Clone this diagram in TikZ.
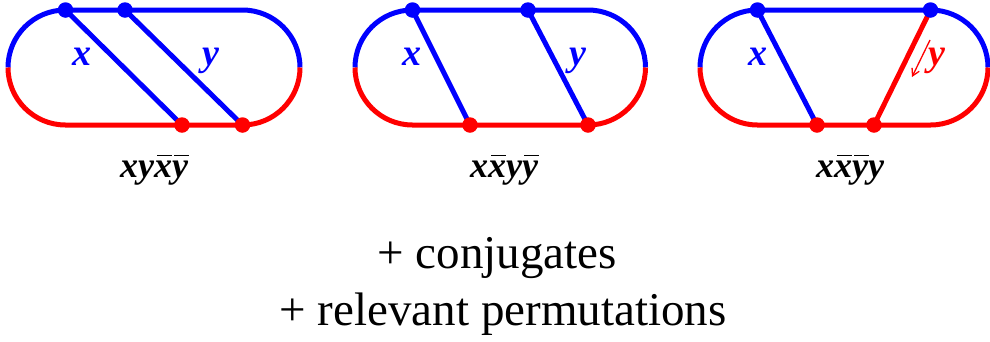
\documentclass[tikz,border=0pt]{standalone}
\usepackage{fontspec}
\setmainfont{Liberation Serif}
\usetikzlibrary{arrows.meta}
\definecolor{cblue}{RGB}{0,0,255}
\definecolor{cred}{RGB}{255,0,0}
\newcommand\ovb[1]{\setbox0\hbox{#1}\rlap{\hbox to \wd0{\hss\hskip0.08em\rule[0.57em]{0.4em}{0.055em}\hss}}\box0}
\newcommand\stadium[3]{% #1 left centre x, #2 right centre x, #3 name prefix
  \draw[edge,cblue] (#1-57.5,-67.5) arc[start angle=180,end angle=90,radius=57.5] -- (#2,-10) arc[start angle=90,end angle=0,radius=57.5];
  \draw[edge,cred] (#1-57.5,-67.5) arc[start angle=180,end angle=270,radius=57.5] -- (#2,-125) arc[start angle=270,end angle=360,radius=57.5];
}
\tikzset{
  edge/.style={line width=5pt,line cap=butt},
  dot/.style={circle,fill,inner sep=0pt,minimum size=15.5pt},
  lab/.style={font=\fontsize{38}{40}\selectfont\bfseries\itshape,inner sep=0pt,anchor=base},
  word/.style={font=\fontsize{36}{40}\selectfont\bfseries\itshape,inner sep=0pt,anchor=base},
  big/.style={font=\fontsize{47}{50}\selectfont,inner sep=0pt,anchor=base}
}
\begin{document}
\begin{tikzpicture}[x=1pt,y=1pt]
\useasboundingbox (0,0) rectangle (990,-341);
% figure 1
\stadium{65.5}{242.5}{a}
\coordinate (a1) at (65.5,-10);
\coordinate (a2) at (125,-10);
\coordinate (a3) at (182,-125);
\coordinate (a4) at (242.5,-125);
\draw[edge,cblue] (a1) -- (a3);
\draw[edge,cblue] (a2) -- (a4);
\node[dot,cblue] (da1) at (a1) {};
\node[dot,cblue] (da2) at (a2) {};
\node[dot,cred] (da3) at (a3) {};
\node[dot,cred] (da4) at (a4) {};
\node[lab,cblue] (ax) at (82,-65) {x};
\node[lab,cblue] (ay) at (211,-65) {y};
\node[word] (aw) at (154,-177) {xy\ovb{x}\ovb{y}};
% figure 2
\stadium{412.5}{588}{b}
\coordinate (b1) at (412.5,-10);
\coordinate (b2) at (528,-10);
\coordinate (b3) at (470,-125);
\coordinate (b4) at (588,-125);
\draw[edge,cblue] (b1) -- (b3);
\draw[edge,cblue] (b2) -- (b4);
\node[dot,cblue] (db1) at (b1) {};
\node[dot,cblue] (db2) at (b2) {};
\node[dot,cred] (db3) at (b3) {};
\node[dot,cred] (db4) at (b4) {};
\node[lab,cblue] (bx) at (412,-65) {x};
\node[lab,cblue] (by) at (578,-65) {y};
\node[word] (bw) at (504,-177) {x\ovb{x}y\ovb{y}};
% figure 3
\stadium{757.5}{930.5}{c}
\coordinate (c1) at (757.5,-10);
\coordinate (c2) at (930.5,-10);
\coordinate (c3) at (817,-125);
\coordinate (c4) at (874,-125);
\draw[edge,cblue] (c1) -- (c3);
\draw[edge,cred] (c2) -- (c4);
\node[dot,cblue] (dc1) at (c1) {};
\node[dot,cblue] (dc2) at (c2) {};
\node[dot,cred] (dc3) at (c3) {};
\node[dot,cred] (dc4) at (c4) {};
\node[lab,cblue] (cx) at (758,-65) {x};
\node[lab,cred] (cy) at (937,-65) {y};
\coordinate (ar1) at (930,-40);
\coordinate (ar2) at (912,-77);
\draw[cred,line width=1.3pt,-{Straight Barb[length=7pt,width=8pt]}] (ar1) -- (ar2);
\node[word] (cw) at (850,-177) {x\ovb{x}\ovb{y}y};
% text
\node[big] (t1) at (497,-268) {+ conjugates};
\node[big] (t2) at (503,-325) {+ relevant permutations};
\end{tikzpicture}
\end{document}
